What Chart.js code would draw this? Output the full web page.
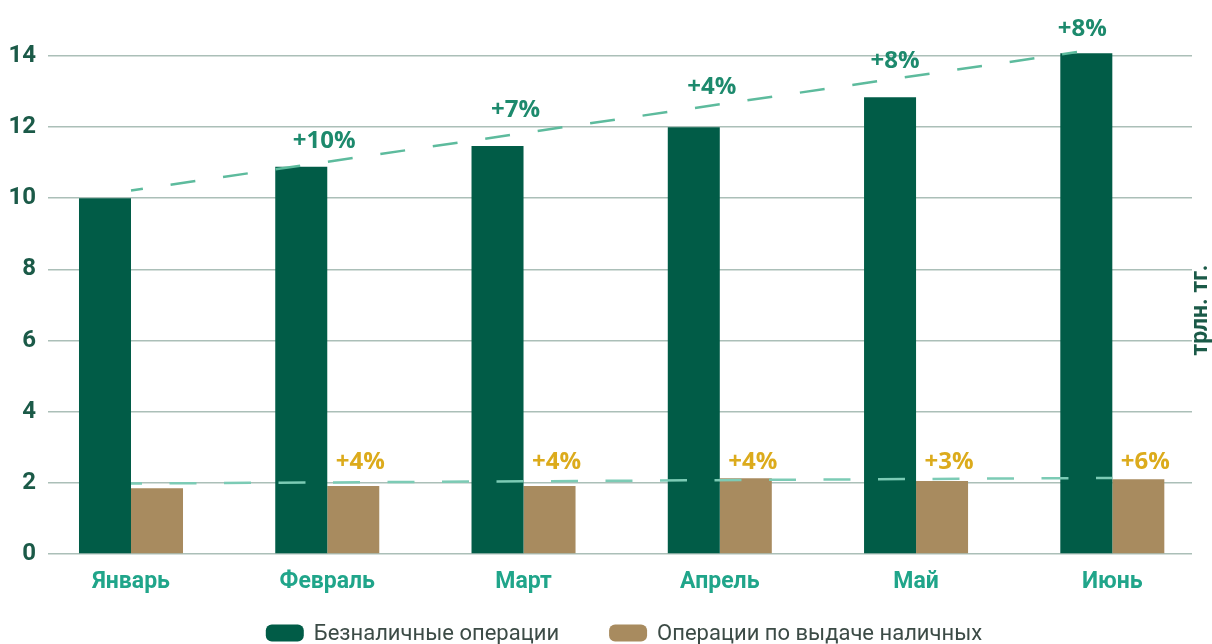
<!DOCTYPE html>
<html>
<head>
<meta charset="utf-8">
<script src="https://cdn.jsdelivr.net/npm/chart.js@4.4.1/dist/chart.umd.min.js"></script>
<style>
  html, body { margin: 0; padding: 0; background: #fff; }
  #wrap { width: 1212px; height: 644px; }
</style>
</head>
<body>
<div id="wrap"><canvas id="myChart"></canvas></div>
<script>
const months = ['Январь', 'Февраль', 'Март', 'Апрель', 'Май', 'Июнь'];
const cashless = [10.0, 10.89, 11.47, 12.0, 12.84, 14.08];
const cashOut = [1.85, 1.91, 1.91, 2.13, 2.05, 2.1];
// month-on-month growth, February to June
const cashlessGrowth = ['+10%', '+7%', '+4%', '+8%', '+8%'];
const cashOutGrowth = ['+4%', '+4%', '+4%', '+3%', '+6%'];
// dashed trend lines: [month index, value]
const cashlessTrend = [[0, 10.22], [4.82, 14.11]];
const cashOutTrend = [[0, 1.98], [5, 2.14]];
const seriesNames = ['Безналичные операции', 'Операции по выдаче наличных'];
const unitLabel = 'трлн. тг.';

const GREEN = '#015c47';
const TAN = '#a88b5f';

function trendAt(pts, v) {
  const [a, b] = pts;
  return a[1] + (b[1] - a[1]) * (v - a[0]) / (b[0] - a[0]);
}

const overlay = {
  id: 'overlay',
  afterDatasetsDraw(chart) {
    const { ctx, chartArea, scales: { x, y } } = chart;
    ctx.save();
    ctx.textAlign = 'center';
    ctx.textBaseline = 'middle';

    // growth labels over the cashless trend line
    const gShift = [-3, -8, -8, -21, -30];
    const gLift = [21, 24, 18, 18, 22];
    ctx.font = '700 24px "Open Sans"';
    ctx.fillStyle = '#1d8a6d';
    cashlessGrowth.forEach((t, k) => {
      const px = x.getPixelForValue(k + 1) + gShift[k];
      const v = trendAt(cashlessTrend, x.getValueForPixel(px));
      ctx.fillText(t, px, y.getPixelForValue(v) - gLift[k]);
    });

    // growth labels over the cash bars
    ctx.fillStyle = '#dcab1c';
    cashOutGrowth.forEach((t, k) => {
      const px = x.getPixelForValue(k + 1) + 33;
      ctx.fillText(t, px, y.getPixelForValue(2) - 21);
    });

    // unit title on the right
    ctx.save();
    ctx.translate(chartArea.right + 15, (chartArea.top + chartArea.bottom) / 2 + 5);
    ctx.rotate(-Math.PI / 2);
    ctx.textBaseline = 'alphabetic';
    ctx.font = '700 23px Roboto';
    ctx.fillStyle = '#1b5a48';
    ctx.fillText(unitLabel, 0, 0);
    ctx.restore();

    // legend
    ctx.font = '400 22px Roboto';
    const boxW = 38, boxH = 17, gap = 10, between = 50;
    const widths = seriesNames.map(n => ctx.measureText(n).width);
    const total = widths.reduce((s, w) => s + boxW + gap + w, 0) + between;
    let lx = (chartArea.left + chartArea.right) / 2 - total / 2 + 4;
    const ly = 633;
    [GREEN, TAN].forEach((c, i) => {
      ctx.fillStyle = c;
      ctx.beginPath();
      ctx.roundRect(lx, ly - boxH / 2, boxW, boxH, 6);
      ctx.fill();
      ctx.fillStyle = '#3c4b46';
      ctx.textAlign = 'left';
      ctx.fillText(seriesNames[i], lx + boxW + gap, ly + 1);
      lx += boxW + gap + widths[i] + between;
    });
    ctx.restore();
  }
};

const ctx = document.getElementById('myChart');

new Chart(ctx, {
  type: 'bar',
  data: {
    datasets: [
      {
        type: 'line',
        data: cashlessTrend.map(p => ({ x: p[0], y: p[1] })),
        borderColor: '#5dbb9d',
        borderWidth: 2.5,
        borderDash: [25, 28],
        borderDashOffset: 13,
        pointRadius: 0,
        clip: false,
        order: 0
      },
      {
        type: 'line',
        data: cashOutTrend.map(p => ({ x: p[0], y: p[1] })),
        borderColor: '#7ccbb5',
        borderWidth: 2.5,
        borderDash: [27, 27.5],
        borderDashOffset: 16,
        pointRadius: 0,
        order: 0
      },
      {
        label: seriesNames[0],
        data: cashless.map((v, i) => ({ x: i, y: v })),
        backgroundColor: GREEN,
        categoryPercentage: 0.53,
        barPercentage: 1,
        clip: false,
        order: 1
      },
      {
        label: seriesNames[1],
        data: cashOut.map((v, i) => ({ x: i, y: v })),
        backgroundColor: TAN,
        categoryPercentage: 0.53,
        barPercentage: 1,
        order: 1
      }
    ]
  },
  options: {
    responsive: true,
    maintainAspectRatio: false,
    animation: false,
    layout: { padding: { left: 0, right: 20, top: 56, bottom: 30 } },
    plugins: {
      legend: { display: false },
      tooltip: { enabled: false }
    },
    scales: {
      x: {
        type: 'linear',
        offset: false,
        min: -0.4229,
        max: 5.406,
        grid: { display: false, offset: false },
        border: { display: false },
        ticks: {
          stepSize: 1,
          includeBounds: false,
          autoSkip: false,
          maxRotation: 0,
          padding: 6,
          color: '#20a58a',
          font: { family: 'Roboto', size: 23, weight: '700' },
          callback: v => Number.isInteger(v) ? months[v] : ''
        },
        afterFit: s => { s.height = 60; }
      },
      y: {
        min: 0,
        max: 14,
        grid: { color: '#abbfb8', lineWidth: 1.6, drawTicks: false },
        border: { display: false },
        ticks: {
          stepSize: 2,
          padding: 12,
          color: '#1b5a48',
          font: { family: 'Roboto', size: 24, weight: '700' }
        },
        afterFit: s => { s.width = 48; }
      }
    }
  },
  plugins: [overlay]
});
</script>
</body>
</html>
